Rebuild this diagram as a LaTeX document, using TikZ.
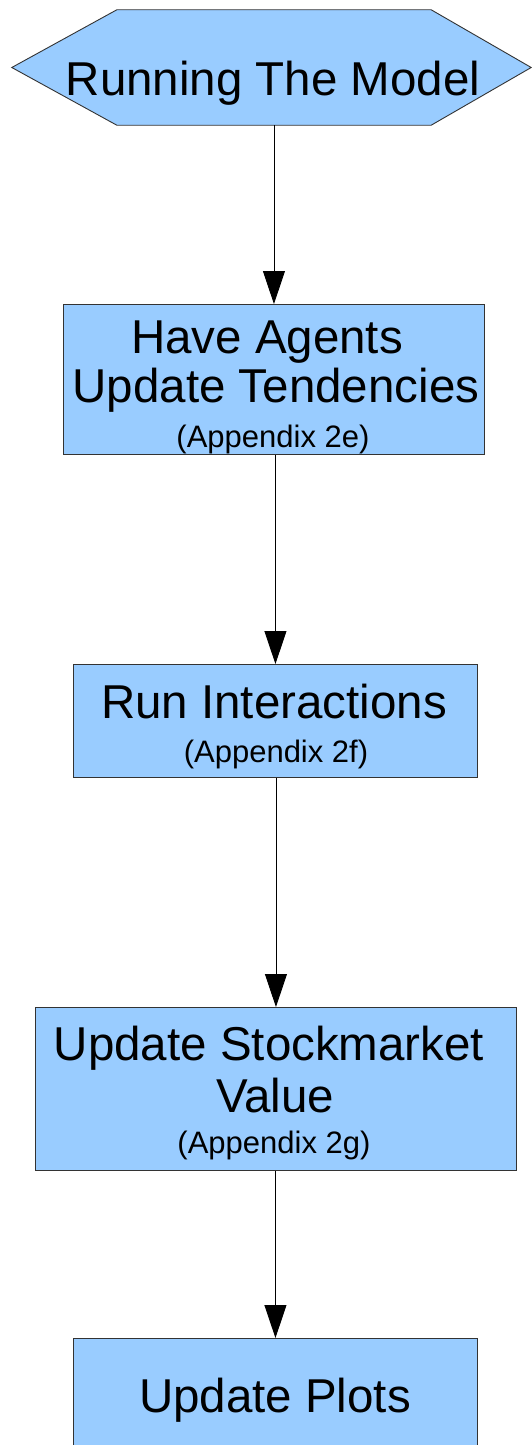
\documentclass[tikz,border=0pt]{standalone}
\usepackage{fontspec}
\setmainfont{Liberation Sans}
\usetikzlibrary{arrows.meta}
\definecolor{boxfill}{HTML}{99CCFF}
\definecolor{boxline}{HTML}{333333}
\begin{document}
\begin{tikzpicture}[x=1pt,y=-1pt,
  stepbox/.style={draw=boxline, line width=0.9pt, fill=boxfill, inner sep=0pt, anchor=north west},
  hexframe/.style={draw=boxline, line width=0.9pt, fill=boxfill},
  bigtext/.style={font=\fontsize{47.5}{50}\selectfont, inner sep=0pt, anchor=base},
  smalltext/.style={font=\fontsize{31}{33}\selectfont, inner sep=0pt, anchor=base},
  flow/.style={draw=black, line width=0.9pt, -{Triangle[length=33pt,width=22pt]}}]

  % page frame
  \clip (0,0) rectangle (532,1445);
  \fill[white] (0,0) rectangle (532,1445);

  % start terminator (hexagon)
  \node[inner sep=0pt, minimum width=519pt, minimum height=115pt] (start) at (271.5,67.5) {};
  \draw[hexframe] (start.west) -- ([xshift=105pt]start.north west)
    -- ([xshift=-100pt]start.north east) -- (start.east)
    -- ([xshift=-100pt]start.south east) -- ([xshift=105pt]start.south west) -- cycle;
  \node[bigtext] (tstart) at (273,95) {Running The Model};

  % process steps
  \node[stepbox, minimum width=421pt, minimum height=150pt] (agents) at (63,304) {};
  \node[bigtext] (tagents1) at (267,353) {Have Agents};
  \node[bigtext] (tagents2) at (276,402) {Update Tendencies};
  \node[smalltext] (tagents3) at (273,447) {(Appendix 2e)};

  \node[stepbox, minimum width=404pt, minimum height=113pt] (interact) at (73,664) {};
  \node[bigtext] (tinteract1) at (274,718) {Run Interactions};
  \node[smalltext] (tinteract2) at (276,762) {(Appendix 2f)};

  \node[stepbox, minimum width=481pt, minimum height=163pt] (market) at (35,1007) {};
  \node[bigtext] (tmarket1) at (269,1060) {Update Stockmarket};
  \node[bigtext] (tmarket2) at (275,1112) {Value};
  \node[smalltext] (tmarket3) at (274,1153) {(Appendix 2g)};

  \node[stepbox, minimum width=404pt, minimum height=140pt] (plots) at (73,1338) {};
  \node[bigtext] (tplots) at (275,1412) {Update Plots};

  % connectors
  \draw[flow] (start.south -| agents.north) -- (agents.north);
  \draw[flow] (agents.south -| interact.north) -- (interact.north);
  \draw[flow] (interact.south -| market.north) -- (market.north);
  \draw[flow] (market.south -| plots.north) -- (plots.north);
\end{tikzpicture}
\end{document}
